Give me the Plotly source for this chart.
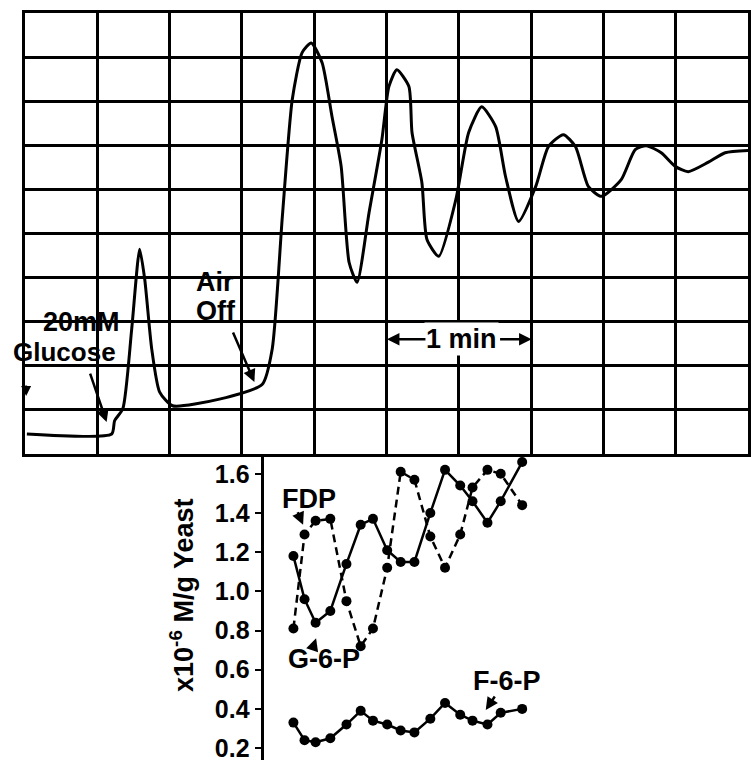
import plotly.graph_objects as go

# ---------------- data ----------------
# Top panel: recorder trace (time in s, deflection in chart divisions)
trace_t = [0.8, 36.0, 37.2, 40.6, 44.3, 47.6, 49.7, 52.6, 55.9, 61.2, 80.7, 98.5,
           102.6, 106.8, 110.9, 115.0, 118.8, 123.3, 127.4, 131.2, 134.5, 137.8,
           142.8, 148.1, 151.0, 154.3, 159.3, 160.6, 164.7, 166.8, 171.7, 178.8,
           184.1, 189.5, 195.3, 199.4, 204.8, 211.9, 217.2, 223.4, 228.4, 233.8,
           239.2, 247.4, 253.2, 257.8, 264.0, 269.8, 275.2, 283.4, 290.5, 300.0]
trace_v = [0.45, 0.45, 0.75, 1.02, 2.83, 4.64, 3.96, 2.38, 1.40, 1.09, 1.24, 1.58,
           2.38, 5.38, 8.03, 9.10, 9.32, 8.87, 7.65, 6.52, 4.34, 3.89,
           5.48, 7.13, 8.33, 8.71, 8.33, 7.29, 6.15, 4.86, 4.48, 5.77,
           7.29, 7.87, 7.42, 6.29, 5.27, 6.06, 6.97, 7.24, 6.97, 6.06,
           5.84, 6.22, 6.90, 6.99, 6.83, 6.52, 6.40, 6.61, 6.83, 6.88]

# Bottom panel: metabolite levels (x10^-6 M/g yeast)
sample_t = [111.4, 116.0, 120.6, 126.7, 133.4, 139.3, 144.4, 150.3, 155.9,
            161.6, 168.2, 174.3, 180.6, 185.7, 191.9, 197.4, 206.3]
fdp = [0.81, 1.29, 1.36, 1.37, 0.95, 0.72, 0.81, 1.12, 1.61,
       1.57, 1.28, 1.12, 1.29, 1.53, 1.62, 1.60, 1.44]
g6p = [1.18, 0.96, 0.84, 0.90, 1.14, 1.34, 1.37, 1.21, 1.15,
       1.15, 1.40, 1.62, 1.54, 1.46, 1.35, 1.46, 1.66]
f6p = [0.33, 0.24, 0.23, 0.25, 0.32, 0.39, 0.34, 0.32, 0.29,
       0.28, 0.35, 0.43, 0.37, 0.34, 0.32, 0.38, 0.40]

conc_ticks = [0.2, 0.4, 0.6, 0.8, 1.0, 1.2, 1.4, 1.6]
conc_ticktext = ["0.2", "0.4", "0.6", "0.8", "1.0", "1.2", "1.4", "1.6"]

# ---------------- figure ----------------
W, H = 751, 766
FONT = "Liberation Sans"
BOLD = dict(family=FONT, size=27, color="black", weight="bold")

fig = go.Figure()

fig.add_trace(go.Scatter(x=trace_t, y=trace_v, mode="lines",
                         line=dict(color="black", width=3, shape="spline", smoothing=0.6),
                         xaxis="x", yaxis="y", showlegend=False, hoverinfo="skip"))

fig.add_trace(go.Scatter(x=sample_t, y=fdp, mode="lines+markers", name="FDP",
                         line=dict(color="black", width=2.5, dash="8px,5px"),
                         marker=dict(color="black", size=10),
                         xaxis="x2", yaxis="y2", showlegend=False))
fig.add_trace(go.Scatter(x=sample_t, y=g6p, mode="lines+markers", name="G-6-P",
                         line=dict(color="black", width=2.5),
                         marker=dict(color="black", size=10),
                         xaxis="x2", yaxis="y2", showlegend=False))
fig.add_trace(go.Scatter(x=sample_t, y=f6p, mode="lines+markers", name="F-6-P",
                         line=dict(color="black", width=2.5),
                         marker=dict(color="black", size=10),
                         xaxis="x2", yaxis="y2", showlegend=False))

xdom = [25 / W, 750 / W]
top_dom = [(H - 455) / H, (H - 13) / H]
bot_dom = [(H - 762) / H, (H - 455) / H]

fig.update_layout(
    width=W, height=H,
    margin=dict(l=0, r=0, t=0, b=0),
    paper_bgcolor="white", plot_bgcolor="white",
    font=dict(family=FONT, color="black"),
    xaxis=dict(domain=xdom, range=[0, 300], dtick=30, tick0=0,
               showgrid=True, gridcolor="black", gridwidth=2.5,
               showticklabels=False, ticks="", zeroline=False,
               showline=True, linecolor="black", linewidth=3, mirror=True,
               anchor="y"),
    yaxis=dict(domain=top_dom, range=[0, 10], dtick=1, tick0=0,
               showgrid=True, gridcolor="black", gridwidth=2.5,
               showticklabels=False, ticks="", zeroline=False,
               showline=True, linecolor="black", linewidth=3, mirror=True,
               anchor="x"),
    xaxis2=dict(domain=xdom, range=[0, 300], visible=False, anchor="y2"),
    yaxis2=dict(domain=bot_dom, range=[0.139, 1.702], anchor="free",
                position=263 / W, showgrid=False, zeroline=False,
                showline=True, linecolor="black", linewidth=2.5,
                ticks="outside", ticklen=7, tickwidth=2, tickcolor="black",
                tickvals=conc_ticks, ticktext=conc_ticktext,
                tickfont=dict(family=FONT, size=25, color="black", weight="bold")),
)

ann = []
# top-panel labels
ann.append(dict(x=40.1, y=2.99, xref="x", yref="y", text="20mM", showarrow=False,
                xanchor="right", yanchor="middle", font=BOLD))
ann.append(dict(x=38.5, y=2.31, xref="x", yref="y", text="Glucose", showarrow=False,
                xanchor="right", yanchor="middle", font=dict(BOLD, size=26)))
ann.append(dict(x=33.9, y=0.72, xref="x", yref="y", ax=-17, ay=-50, text="",
                showarrow=True, arrowhead=2, arrowsize=1, arrowwidth=2.5, arrowcolor="black"))
ann.append(dict(x=70.3, y=3.89, xref="x", yref="y", text="Air", showarrow=False,
                xanchor="left", yanchor="middle", font=BOLD))
ann.append(dict(x=70.3, y=3.24, xref="x", yref="y", text="Off", showarrow=False,
                xanchor="left", yanchor="middle", font=BOLD))
ann.append(dict(x=95.2, y=1.63, xref="x", yref="y", ax=-22, ay=-51, text="",
                showarrow=True, arrowhead=2, arrowsize=1, arrowwidth=2.5, arrowcolor="black"))
ann.append(dict(x=181.2, y=2.60, xref="x", yref="y", text="1 min", showarrow=False,
                xanchor="center", yanchor="middle", font=BOLD, bgcolor="white"))
ann.append(dict(x=150.2, y=2.60, xref="x", yref="y", ax=40, ay=0, text="",
                showarrow=True, arrowhead=2, arrowsize=1, arrowwidth=2.5, arrowcolor="black"))
ann.append(dict(x=210.2, y=2.60, xref="x", yref="y", ax=-33, ay=0, text="",
                showarrow=True, arrowhead=2, arrowsize=1, arrowwidth=2.5, arrowcolor="black"))
ann.append(dict(x=0.5, y=1.31, xref="x", yref="y", ax=0, ay=-12, text="",
                showarrow=True, arrowhead=2, arrowsize=1, arrowwidth=2, arrowcolor="black"))
# bottom-panel labels
ann.append(dict(x=117.9, y=1.473, xref="x2", yref="y2", text="FDP", showarrow=False,
                xanchor="center", yanchor="middle", font=BOLD))
ann.append(dict(x=115.4, y=1.34, xref="x2", yref="y2", ax=-6, ay=-14, text="",
                showarrow=True, arrowhead=2, arrowsize=1, arrowwidth=2.5, arrowcolor="black"))
ann.append(dict(x=124.1, y=0.653, xref="x2", yref="y2", text="G-6-P", showarrow=False,
                xanchor="center", yanchor="middle", font=BOLD))
ann.append(dict(x=120.8, y=0.76, xref="x2", yref="y2", ax=-4, ay=12, text="",
                showarrow=True, arrowhead=2, arrowsize=1, arrowwidth=2.5, arrowcolor="black"))
ann.append(dict(x=199.9, y=0.541, xref="x2", yref="y2", text="F-6-P", showarrow=False,
                xanchor="center", yanchor="middle", font=BOLD))
ann.append(dict(x=191.2, y=0.394, xref="x2", yref="y2", ax=10, ay=-15, text="",
                showarrow=True, arrowhead=2, arrowsize=1, arrowwidth=2.5, arrowcolor="black"))
# y-axis title for bottom panel
ann.append(dict(x=183 / W, y=(H - 597) / H, xref="paper", yref="paper",
                text="x10<sup>-6</sup> M/g Yeast", textangle=-90, showarrow=False,
                xanchor="center", yanchor="middle", font=BOLD))

fig.update_layout(annotations=ann)

# remove the browser's default 8px body margin so the figure sits at the page origin
fig.write_html("out.html",
               config={"displayModeBar": False},
               post_script="document.body.style.margin='0';document.body.style.overflow='hidden';")
